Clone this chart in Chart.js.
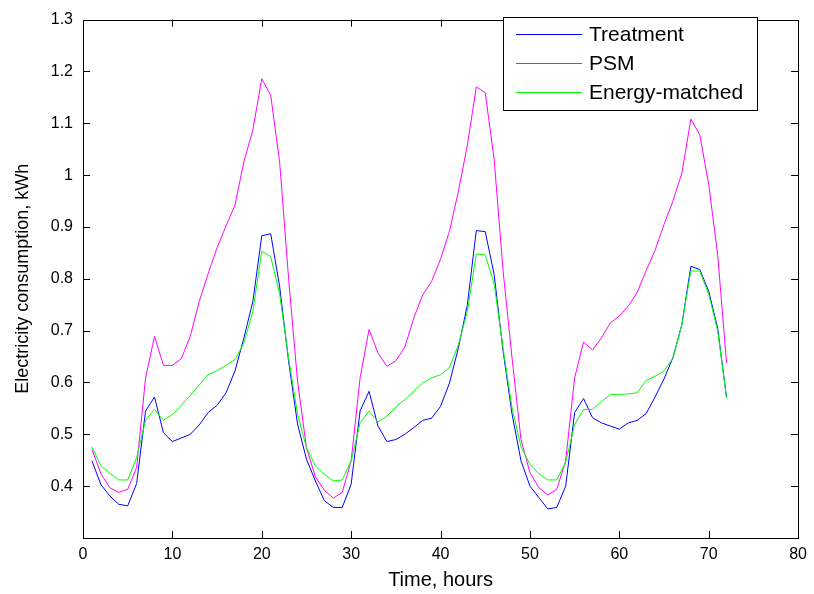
<!DOCTYPE html>
<html>
<head>
<meta charset="utf-8">
<title>Electricity consumption</title>
<script src="https://cdn.jsdelivr.net/npm/chart.js@4.4.1/dist/chart.umd.min.js"></script>
<style>
  html, body { margin: 0; padding: 0; background: #fff; }
  canvas { display: block; }
</style>
</head>
<body>
<canvas id="myChart" width="814" height="594"></canvas>
<script>
  'use strict'

  const hours = [
    1, 2, 3, 4, 5, 6, 7, 8, 9, 10, 11, 12, 13, 14, 15, 16, 17, 18, 19, 20, 21, 22, 23, 24,
    25, 26, 27, 28, 29, 30, 31, 32, 33, 34, 35, 36, 37, 38, 39, 40, 41, 42, 43, 44, 45, 46, 47, 48,
    49, 50, 51, 52, 53, 54, 55, 56, 57, 58, 59, 60, 61, 62, 63, 64, 65, 66, 67, 68, 69, 70, 71, 72
  ]

  const treatment = [
    0.449, 0.403, 0.381, 0.365, 0.362, 0.405, 0.545, 0.572, 0.503, 0.486, 0.493, 0.500,
    0.518, 0.542, 0.556, 0.580, 0.622, 0.686, 0.756, 0.883, 0.887, 0.785, 0.641, 0.520,
    0.452, 0.410, 0.372, 0.359, 0.359, 0.404, 0.545, 0.583, 0.516, 0.486, 0.490, 0.500,
    0.513, 0.527, 0.531, 0.554, 0.599, 0.667, 0.750, 0.893, 0.891, 0.808, 0.660, 0.539,
    0.449, 0.400, 0.378, 0.356, 0.359, 0.400, 0.542, 0.569, 0.532, 0.522, 0.516, 0.510,
    0.522, 0.527, 0.540, 0.572, 0.607, 0.648, 0.712, 0.824, 0.818, 0.776, 0.705, 0.570
  ]

  const psm = [
    0.471, 0.424, 0.397, 0.388, 0.394, 0.436, 0.609, 0.689, 0.633, 0.633, 0.646, 0.689,
    0.756, 0.810, 0.860, 0.902, 0.942, 1.026, 1.087, 1.186, 1.154, 1.025, 0.801, 0.603,
    0.474, 0.418, 0.392, 0.377, 0.388, 0.449, 0.609, 0.702, 0.657, 0.631, 0.642, 0.668,
    0.724, 0.769, 0.795, 0.838, 0.892, 0.969, 1.058, 1.170, 1.159, 1.030, 0.815, 0.647,
    0.490, 0.426, 0.397, 0.383, 0.394, 0.449, 0.609, 0.678, 0.663, 0.686, 0.715, 0.728,
    0.747, 0.774, 0.816, 0.855, 0.905, 0.950, 1.004, 1.108, 1.078, 0.982, 0.847, 0.637
  ]

  const energyMatched = [
    0.476, 0.439, 0.425, 0.412, 0.412, 0.455, 0.527, 0.548, 0.527, 0.538, 0.556, 0.575,
    0.595, 0.615, 0.623, 0.633, 0.644, 0.676, 0.737, 0.853, 0.843, 0.770, 0.647, 0.539,
    0.474, 0.439, 0.423, 0.410, 0.412, 0.449, 0.522, 0.545, 0.524, 0.535, 0.553, 0.567,
    0.583, 0.599, 0.609, 0.615, 0.629, 0.673, 0.737, 0.848, 0.846, 0.790, 0.665, 0.551,
    0.476, 0.442, 0.424, 0.412, 0.412, 0.446, 0.519, 0.548, 0.548, 0.563, 0.577, 0.577,
    0.578, 0.580, 0.604, 0.612, 0.622, 0.647, 0.712, 0.815, 0.815, 0.770, 0.700, 0.570
  ]

  const xTicks = [0, 10, 20, 30, 40, 50, 60, 70, 80]
  const yTicks = [0.3, 0.4, 0.5, 0.6, 0.7, 0.8, 0.9, 1.0, 1.1, 1.2, 1.3]

  const FONT = '"Liberation Sans", Arial, Helvetica, sans-serif'

  const points = values => hours.map((h, i) => ({ x: h, y: values[i] }))

  // MATLAB style box with ticks pointing inwards on all four sides
  const boxPlugin = {
    id: 'box',
    afterDatasetsDraw(chart) {
      const { ctx, chartArea: a, scales } = chart
      const len = 7
      ctx.save()
      ctx.strokeStyle = '#000'
      ctx.lineWidth = 1
      ctx.beginPath()
      scales.x.ticks.forEach(t => {
        const px = Math.round(scales.x.getPixelForValue(t.value)) + 0.5
        if (px <= a.left + 1 || px >= a.right - 1) return
        ctx.moveTo(px, a.bottom); ctx.lineTo(px, a.bottom - len)
        ctx.moveTo(px, a.top); ctx.lineTo(px, a.top + len)
      })
      scales.y.ticks.forEach(t => {
        const py = Math.round(scales.y.getPixelForValue(t.value)) + 0.5
        if (py <= a.top + 1 || py >= a.bottom - 1) return
        ctx.moveTo(a.left, py); ctx.lineTo(a.left + len, py)
        ctx.moveTo(a.right, py); ctx.lineTo(a.right - len, py)
      })
      ctx.stroke()
      ctx.strokeRect(Math.round(a.left) + 0.5, Math.round(a.top) + 0.5,
        Math.round(a.right - a.left), Math.round(a.bottom - a.top))
      ctx.restore()
    }
  }

  // legend box in the upper right corner of the axes
  const legendPlugin = {
    id: 'boxLegend',
    afterDraw(chart) {
      const { ctx } = chart
      const x0 = 503, y0 = 17, w = 254, h = 93
      ctx.save()
      ctx.fillStyle = '#fff'
      ctx.fillRect(x0, y0, w, h)
      ctx.strokeStyle = '#000'
      ctx.lineWidth = 1
      ctx.strokeRect(x0 + 0.5, y0 + 0.5, w, h)
      ctx.font = '21px ' + FONT
      ctx.textBaseline = 'middle'
      chart.data.datasets.forEach((ds, i) => {
        const y = 34 + i * 29
        ctx.strokeStyle = ds.borderColor
        ctx.beginPath()
        ctx.moveTo(516, y + 0.5)
        ctx.lineTo(582, y + 0.5)
        ctx.stroke()
        ctx.fillStyle = '#000'
        ctx.fillText(ds.label, 589, y + 1)
      })
      ctx.restore()
    }
  }

  const ctx = document.getElementById('myChart')
  // eslint-disable-next-line no-unused-vars
  const myChart = new Chart(ctx, {
    type: 'line',
    data: {
      datasets: [{
        label: 'Treatment',
        data: points(treatment),
        borderColor: '#0000ff',
        order: 2
      }, {
        label: 'PSM',
        data: points(psm),
        borderColor: '#ff00ff',
        order: 1
      }, {
        label: 'Energy-matched',
        data: points(energyMatched),
        borderColor: '#00ff00',
        order: 0
      }]
    },
    options: {
      responsive: false,
      animation: false,
      layout: {
        padding: { top: 13, right: 13, left: 0, bottom: 0 }
      },
      elements: {
        line: { borderWidth: 1, tension: 0, fill: false },
        point: { radius: 0 }
      },
      plugins: {
        legend: { display: false },
        tooltip: { enabled: false }
      },
      scales: {
        x: {
          type: 'linear',
          min: 0,
          max: 80,
          afterBuildTicks: scale => { scale.ticks = xTicks.map(v => ({ value: v })) },
          afterFit: scale => { scale.height = 56 },
          grid: { display: false, drawTicks: false },
          border: { display: false },
          ticks: {
            color: '#000',
            padding: 7,
            maxRotation: 0,
            font: { family: FONT, size: 16 },
            callback: v => String(v)
          },
          title: {
            display: true,
            text: 'Time, hours',
            color: '#000',
            font: { family: FONT, size: 20 },
            padding: { top: 0, bottom: 2 }
          }
        },
        y: {
          type: 'linear',
          min: 0.3,
          max: 1.3,
          afterBuildTicks: scale => { scale.ticks = yTicks.map(v => ({ value: v })) },
          afterFit: scale => { scale.width = 83 },
          grid: { display: false, drawTicks: false },
          border: { display: false },
          ticks: {
            color: '#000',
            padding: 10,
            font: { family: FONT, size: 16 },
            callback: v => (Math.abs(v - 0.3) < 1e-9 ? '' : String(Number(v.toFixed(1))))
          },
          title: {
            display: true,
            text: 'Electricity consumption, kWh',
            color: '#000',
            font: { family: FONT, size: 18 },
            padding: { top: 12, bottom: 0 }
          }
        }
      }
    },
    plugins: [boxPlugin, legendPlugin]
  })
</script>
</body>
</html>
